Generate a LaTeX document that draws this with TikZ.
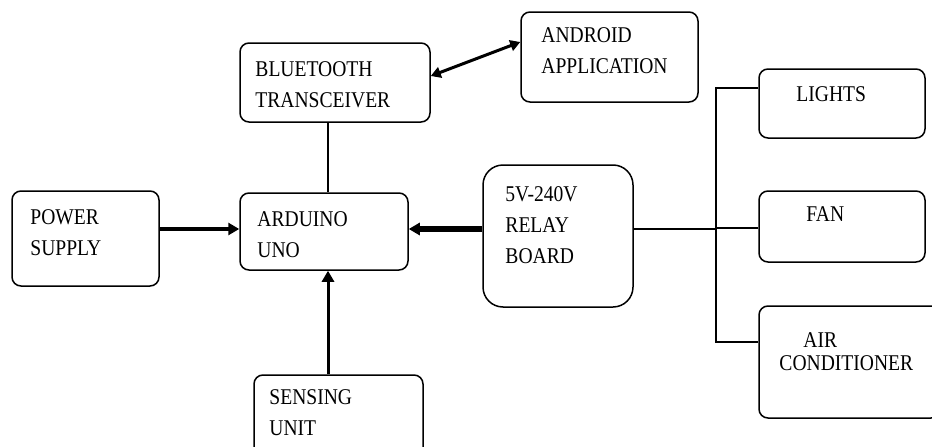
\documentclass[tikz,border=0pt]{standalone}
\usepackage{fontspec}
\setmainfont{Liberation Serif}[FakeStretch=0.87]
\usetikzlibrary{calc}
\usetikzlibrary{arrows.meta}
\usetikzlibrary{positioning}

\tikzset{
  blk/.style={draw, line width=1.5pt, rounded corners=9pt, inner sep=0pt},
  lbl/.style={anchor=base west, inner sep=0pt, align=left, font=\fontsize{22.5}{31}\selectfont},
  link/.style={line width=1.5pt},
  head/.style={-{Triangle[length=11pt,width=12pt]}},
}

\begin{document}
\begin{tikzpicture}[x=1pt,y=-1pt]
        \useasboundingbox (0,0) rectangle (932,447);
        \clip (0,0) rectangle (932,447);
        % blocks
        \node[blk, minimum width=190pt, minimum height=79pt]  (bt)  at (335.0, 82.5) {};
        \node[blk, minimum width=177pt, minimum height=90pt]  (and) at (609.5, 57.0) {};
        \node[blk, minimum width=147pt, minimum height=95pt]  (pow) at ( 85.5,238.5) {};
        \node[blk, minimum width=168pt, minimum height=77pt]  (ard) at (324.0,231.5) {};
        \node[blk, minimum width=150pt, minimum height=142pt, rounded corners=20pt] (rel) at (558.0,236.0) {};
        \node[blk, minimum width=166pt, minimum height=69pt]  (lig) at (842.0,103.5) {};
        \node[blk, minimum width=166pt, minimum height=71pt]  (fan) at (842.0,226.5) {};
        \node[blk, minimum width=181pt, minimum height=112pt] (air) at (849.5,362.0) {};
        \node[blk, minimum width=169pt, minimum height=85pt]  (sen) at (338.5,417.5) {};
        % texts (base = last line)
        \node[lbl] (bt-t)  at ($(bt.north west)+(16,65)$)  {BLUETOOTH\\TRANSCEIVER};
        \node[lbl] (and-t) at ($(and.north west)+(21,62)$) {ANDROID\\APPLICATION};
        \node[lbl] (pow-t) at ($(pow.north west)+(19,65)$) {POWER\\SUPPLY};
        \node[lbl] (ard-t) at ($(ard.north west)+(18,65)$) {ARDUINO\\UNO};
        \node[lbl] (rel-t) at ($(rel.north west)+(23,99)$) {5V-240V\\RELAY\\BOARD};
        \node[lbl] (lig-t) at ($(lig.north west)+(38,33)$) {LIGHTS};
        \node[lbl] (fan-t) at ($(fan.north west)+(48,31)$) {FAN};
        \node[lbl, font=\fontsize{22.5}{23}\selectfont] (air-t) at ($(air.north west)+(21,65)$) {\hspace{24pt}AIR\\CONDITIONER};
        \node[lbl] (sen-t) at ($(sen.north west)+(16,61)$) {SENSING\\UNIT};
        % connectors
        \coordinate (mid) at (0,229);
        \coordinate (col) at (328,0);
        \coordinate (bus) at (716,0);
        \coordinate (lig-in) at ([yshift=15.5pt]lig.west);
        \coordinate (fan-in) at ([yshift=-1.5pt]fan.west);
        \coordinate (air-in) at ([yshift=20pt]air.west);
        \draw[link] (bt.south -| col) -- (ard.north -| col);
        \draw[line width=3pt, {Triangle[length=10pt,width=11pt]}-{Triangle[length=10pt,width=11pt]}]
             ([yshift=6.5pt]bt.east) -- ([yshift=15pt]and.west);
        \draw[head, line width=4.5pt] (pow.east |- mid) -- (ard.west |- mid);
        \draw[head, line width=6pt]   (rel.west |- mid) -- (ard.east |- mid);
        \draw[head, line width=3pt]   (sen.north -| col) -- (ard.south -| col);
        \draw[link] (rel.east |- mid) -- (bus |- mid);
        \draw[link] (lig-in) -- (bus |- lig-in) -- (bus |- air-in) -- (air-in);
        \draw[link] (fan-in) -- (bus |- fan-in);
\end{tikzpicture}
\end{document}
